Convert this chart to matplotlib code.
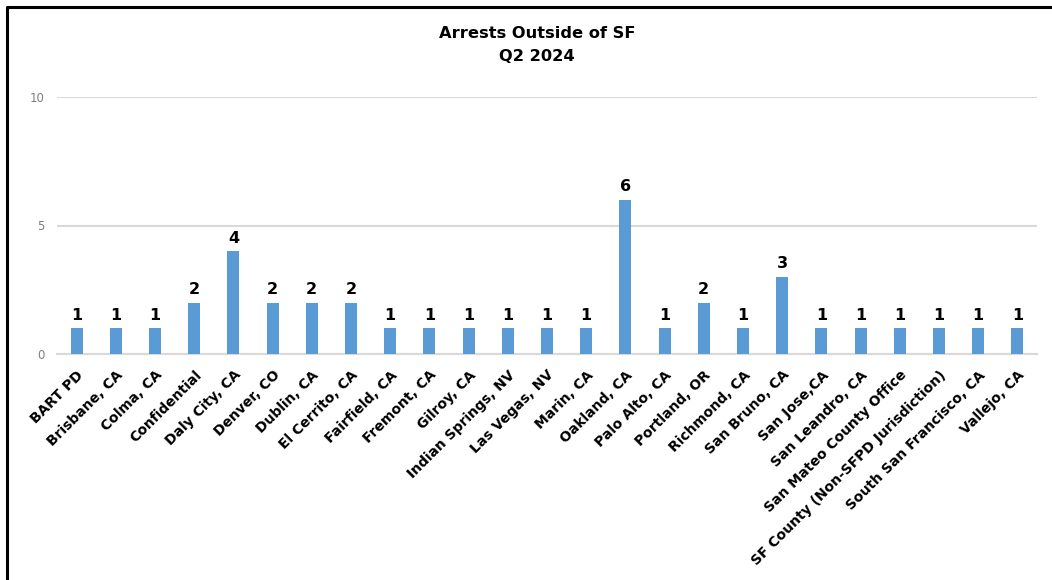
import matplotlib
matplotlib.use("Agg")
import matplotlib.pyplot as plt
from matplotlib.lines import Line2D

locations = ["BART PD", "Brisbane, CA", "Colma, CA", "Confidential", "Daly City, CA",
             "Denver, CO", "Dublin, CA", "El Cerrito, CA", "Fairfield, CA", "Fremont, CA",
             "Gilroy, CA", "Indian Springs, NV", "Las Vegas, NV", "Marin, CA", "Oakland, CA",
             "Palo Alto, CA", "Portland, OR", "Richmond, CA", "San Bruno, CA", "San Jose,CA",
             "San Leandro, CA", "San Mateo County Office", "SF County (Non-SFPD Jurisdiction)",
             "South San Francisco, CA", "Vallejo, CA"]
arrests = [1, 1, 1, 2, 4, 2, 2, 2, 1, 1, 1, 1, 1, 1, 6, 1, 2, 1, 3, 1, 1, 1, 1, 1, 1]
y_ticks = [0, 5, 10]

W, H = 1052, 580
fig = plt.figure(figsize=(W / 100, H / 100), dpi=100)
ax = fig.add_axes([57 / W, 1 - 354 / H, 980 / W, (354 - 97) / H])

x = range(len(locations))
bars = ax.bar(x, arrests, width=0.31, color="#5B9BD5", zorder=3)

for xi, v in zip(x, arrests):
    ax.text(xi, v + 0.22, str(v), ha="center", va="bottom",
            fontsize=11.5, fontweight="bold", color="black")

ax.set_xlim(-0.5, len(locations) - 0.5)
ax.set_ylim(0, 10)
ax.set_yticks(y_ticks)
ax.set_yticklabels([str(t) for t in y_ticks], color="#7F7F7F", fontsize=8.5)
ax.yaxis.grid(True, color="#D9D9D9", linewidth=1.5, zorder=0)
ax.tick_params(axis="y", length=0, pad=9)
ax.tick_params(axis="x", length=0, pad=10)
ax.set_xticks(list(x))
ax.set_xticklabels(locations, rotation=45, ha="right", rotation_mode="anchor",
                   fontsize=10, fontweight="bold")
for s in ["top", "right", "left"]:
    ax.spines[s].set_visible(False)
ax.spines["bottom"].set_color("#D9D9D9")
ax.spines["bottom"].set_linewidth(1.5)

fig.text(537 / W, 1 - 45 / H, "Arrests Outside of SF\nQ2 2024", ha="center", va="center",
         fontsize=11.7, fontweight="bold", linespacing=1.6)

# outer frame (only top and left visible in the crop)
fx, fy = 7 / W, 1 - 7 / H
fig.add_artist(Line2D([fx, fx, 1.0], [0.0, fy, fy], color="black", linewidth=2.2,
                      transform=fig.transFigure))

fig.savefig("out.png", dpi=100)
